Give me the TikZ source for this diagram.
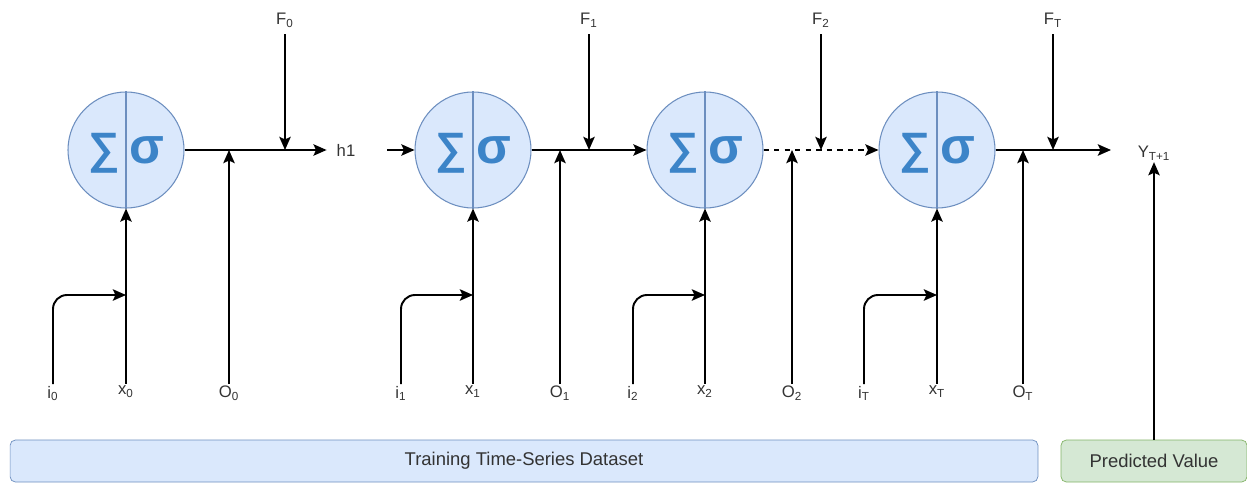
\documentclass[tikz,border=0pt]{standalone}
\usepackage{fontspec}
\setmainfont{Liberation Sans}
\usetikzlibrary{positioning, arrows.meta}
\definecolor{cellFill}{HTML}{DAE8FC}
\definecolor{cellLine}{HTML}{6C8EBF}
\definecolor{symBlue}{HTML}{3C84C8}
\definecolor{predFill}{HTML}{D5E8D4}
\definecolor{predLine}{HTML}{82B366}
\definecolor{txtGrey}{HTML}{333333}

\begin{document}
\begin{tikzpicture}[
    x=0.02cm, y=-0.02cm,
    cell/.style={circle, draw=cellLine, line width=0.6pt, fill=cellFill, minimum size=2.32cm, inner sep=0pt},
    sym/.style={text=symBlue, font=\fontsize{29}{30}\selectfont\bfseries, inner sep=0pt},
    sumsym/.style={sym, font=\fontsize{25}{26}\selectfont\bfseries},
    lbl/.style={text=txtGrey, font=\fontsize{9.5}{11}\selectfont, inner sep=1pt},
    bar/.style={rectangle, draw=cellLine, fill=cellFill, rounded corners=3pt, minimum height=0.84cm, text=txtGrey, font=\fontsize{10.5}{12}\selectfont},
    arrow/.style={-{Stealth[length=7.5pt, width=6.5pt, inset=1.5pt]}, line width=1.1pt},
    elbow/.style={arrow, rounded corners=0.28cm}
    ]
    \useasboundingbox (0,0) rectangle (1247,483);

    % Celdas
    \node[cell] (Cell0) at (126,150) {};
    \node[cell] (Cell1) at (473,150) {};
    \node[cell] (Cell2) at (705,150) {};
    \node[cell] (Cell3) at (937,150) {};
    \draw[cellLine, line width=0.6pt] (Cell0.north) -- (Cell0.south);
    \draw[cellLine, line width=0.6pt] (Cell1.north) -- (Cell1.south);
    \draw[cellLine, line width=0.6pt] (Cell2.north) -- (Cell2.south);
    \draw[cellLine, line width=0.6pt] (Cell3.north) -- (Cell3.south);
    \node[sumsym] (Sum0) at (104,153) {∑};
    \node[sym] (Act0) at (147,150) {σ};
    \node[sumsym] (Sum1) at (451,153) {∑};
    \node[sym] (Act1) at (494,150) {σ};
    \node[sumsym] (Sum2) at (683,153) {∑};
    \node[sym] (Act2) at (726,150) {σ};
    \node[sumsym] (Sum3) at (915,153) {∑};
    \node[sym] (Act3) at (958,150) {σ};

    % Entradas
    \node[lbl, anchor=north] (In0) at (53,384) {i\textsubscript{0}};
    \node[lbl, anchor=north] (X0) at (126,384) {x\textsubscript{0}};
    \node[lbl, anchor=north] (Out0) at (229,384) {O\textsubscript{0}};
    \node[lbl, anchor=north] (In1) at (401,384) {i\textsubscript{1}};
    \node[lbl, anchor=north] (X1) at (473,384) {x\textsubscript{1}};
    \node[lbl, anchor=north] (Out1) at (560,384) {O\textsubscript{1}};
    \node[lbl, anchor=north] (In2) at (633,384) {i\textsubscript{2}};
    \node[lbl, anchor=north] (X2) at (705,384) {x\textsubscript{2}};
    \node[lbl, anchor=north] (Out2) at (792,384) {O\textsubscript{2}};
    \node[lbl, anchor=north] (In3) at (864,384) {i\textsubscript{T}};
    \node[lbl, anchor=north] (X3) at (937,384) {x\textsubscript{T}};
    \node[lbl, anchor=north] (Out3) at (1023,384) {O\textsubscript{T}};

    % Olvido
    \node[lbl] (F0) at (285,20) {F\textsubscript{0}};
    \node[lbl] (F1) at (589,20) {F\textsubscript{1}};
    \node[lbl] (F2) at (821,20) {F\textsubscript{2}};
    \node[lbl] (F3) at (1053,20) {F\textsubscript{T}};

    % Salidas
    \node[lbl] (Hid1) at (346,150) {h1};
    \node[lbl] (Y) at (1154,153) {Y\textsubscript{T+1}};
    \coordinate (Yin) at (1111,150);

    % Barras inferiores
    \node[bar, minimum width=20.56cm] (Train) at (524,461) {Training Time-Series Dataset};
    \node[bar, draw=predLine, fill=predFill, minimum width=3.72cm] (Pred) at (1154,461) {Predicted Value};

    % Puntos de union
    \coordinate (Ji0) at (126,295);
    \coordinate (Ji1) at (473,295);
    \coordinate (Ji2) at (705,295);
    \coordinate (Ji3) at (937,295);
    \coordinate (Jo0) at (229,150);
    \coordinate (Jo1) at (560,150);
    \coordinate (Jo2) at (792,150);
    \coordinate (Jo3) at (1023,150);
    \coordinate (Jf0) at (285,150);
    \coordinate (Jf1) at (589,150);
    \coordinate (Jf2) at (821,150);
    \coordinate (Jf3) at (1053,150);

    % Conexiones
    \draw[arrow, shorten >=0.16cm] (Cell0) -- (Hid1);
    \draw[arrow, shorten <=0.6cm] (Hid1) -- (Cell1);
    \draw[arrow] (Cell1) -- (Cell2);
    \draw[arrow, dashed] (Cell2) -- (Cell3);
    \draw[arrow] (Cell3) -- (Yin);
    \draw[arrow] (Pred) -- (Y);

    \draw[arrow] (X0) -- (Cell0);
    \draw[arrow] (X1) -- (Cell1);
    \draw[arrow] (X2) -- (Cell2);
    \draw[arrow] (X3) -- (Cell3);
    \draw[elbow] (In0) |- (Ji0);
    \draw[elbow] (In1) |- (Ji1);
    \draw[elbow] (In2) |- (Ji2);
    \draw[elbow] (In3) |- (Ji3);
    \draw[arrow] (Out0) -- (Jo0);
    \draw[arrow] (Out1) -- (Jo1);
    \draw[arrow] (Out2) -- (Jo2);
    \draw[arrow] (Out3) -- (Jo3);
    \draw[arrow, shorten <=0.1cm] (F0) -- (Jf0);
    \draw[arrow, shorten <=0.1cm] (F1) -- (Jf1);
    \draw[arrow, shorten <=0.1cm] (F2) -- (Jf2);
    \draw[arrow, shorten <=0.1cm] (F3) -- (Jf3);

\end{tikzpicture}
\end{document}
